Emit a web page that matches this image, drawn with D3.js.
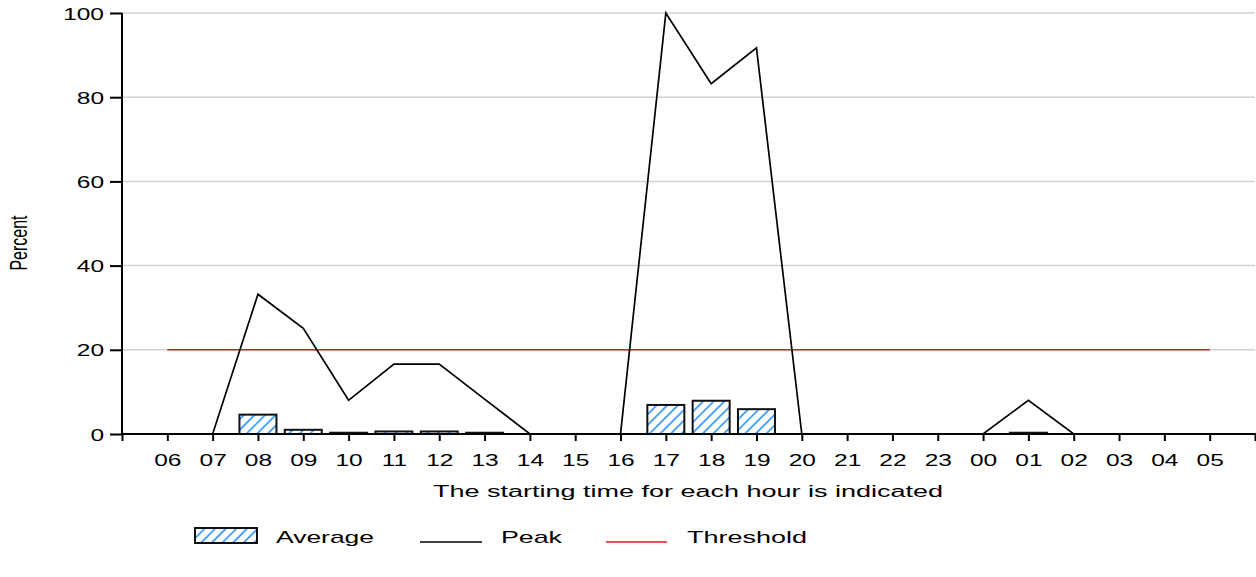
<!DOCTYPE html>
<html><head><meta charset="utf-8">
<script src="https://cdn.jsdelivr.net/npm/d3@7"></script>
<style>body{margin:0;background:#fff}svg{display:block}text{font-family:"Liberation Sans",Arial,sans-serif;fill:#000}</style>
</head><body><svg id="c" width="1256" height="577"></svg>
<script>
const hours = ["06","07","08","09","10","11","12","13","14","15","16","17","18","19","20","21","22","23","00","01","02","03","04","05"];
const averageValues = [0,0,4.6,1.0,0.3,0.6,0.6,0.3,0,0,0,6.9,7.9,5.9,0,0,0,0,0,0.3,0,0,0,0];
const peakValues = [0,0,33.2,25.1,8.0,16.6,16.6,8.3,0,0,0,100,83.2,91.7,0,0,0,0,0,8.0,0,0,0,0];
const thresholdValue = 20;
const yTicks = [0,20,40,60,80,100];
const legendLabels = ["Average","Peak","Threshold"];

const svg = d3.select("#c");
const x = d3.scaleLinear().domain([-1, hours.length]).range([122, 1255]);
const y = d3.scaleLinear().domain([0, 100]).range([434, 13]);
const barW = 37;

function stretch(sel, f){ sel.each(function(){ const w=this.getComputedTextLength(); d3.select(this).attr("textLength", w*f).attr("lengthAdjust","spacingAndGlyphs"); }); }
function fitTo(sel, w){ sel.attr("textLength", w).attr("lengthAdjust","spacingAndGlyphs"); }

const defs = svg.append("defs");
const pat = defs.append("pattern").attr("id","hatch").attr("patternUnits","userSpaceOnUse")
  .attr("width",7.5).attr("height",7.5).attr("patternTransform","rotate(45)");
pat.append("rect").attr("width",7.5).attr("height",7.5).attr("fill","#fff");
pat.append("line").attr("x1",1).attr("y1",0).attr("x2",1).attr("y2",7.5).attr("stroke","#3a9cff").attr("stroke-width",1.8);

// grid
svg.append("g").selectAll("line").data(yTicks.filter(d=>d>0)).join("line")
  .attr("x1",122).attr("x2",1255).attr("y1",d=>y(d)).attr("y2",d=>y(d))
  .attr("stroke","#d2d2d2").attr("stroke-width",1.5);

// bars
svg.append("g").selectAll("rect").data(averageValues.map((v,i)=>({v,i})).filter(d=>d.v>0)).join("rect")
  .attr("x",d=>x(d.i)-barW/2).attr("width",barW)
  .attr("y",d=>y(d.v)).attr("height",d=>y(0)-y(d.v))
  .attr("fill","url(#hatch)").attr("stroke","#111").attr("stroke-width",2);

// threshold
svg.append("line").attr("x1",x(0)).attr("x2",x(hours.length-1))
  .attr("y1",y(thresholdValue)).attr("y2",y(thresholdValue)).attr("stroke","#e8141c").attr("stroke-width",1.6);

// peak
svg.append("path").datum(peakValues)
  .attr("d", d3.line().x((d,i)=>x(i)).y(d=>y(d)))
  .attr("fill","none").attr("stroke","#000").attr("stroke-width",1.7);

// y axis
const ya = svg.append("g").attr("transform","translate(122,0)")
  .call(d3.axisLeft(y).tickValues(yTicks).tickSize(12).tickPadding(6));
ya.select(".domain").attr("stroke","#000").attr("stroke-width",2).attr("d","M0,"+y(0)+"V"+y(100));
ya.selectAll(".tick line").attr("stroke","#000").attr("stroke-width",2);
ya.selectAll("text").attr("font-size",17).attr("fill","#000").attr("font-family","Liberation Sans, Arial, sans-serif").attr("dy","0.36em");
stretch(ya.selectAll("text"), 1.44);

// x axis
const tickIdx = d3.range(-1, hours.length+1);
const xa = svg.append("g").attr("transform","translate(0,434)")
  .call(d3.axisBottom(x).tickValues(tickIdx).tickSize(7).tickPadding(13)
    .tickFormat(i => (i>=0 && i<hours.length) ? hours[i] : ""));
xa.select(".domain").attr("stroke","#000").attr("stroke-width",2).attr("d","M122,0H1256");
xa.selectAll(".tick line").attr("stroke","#000").attr("stroke-width",2);
xa.selectAll("text").attr("font-size",17).attr("fill","#000").attr("font-family","Liberation Sans, Arial, sans-serif");
stretch(xa.selectAll("text"), 1.44);

// axis titles
fitTo(svg.append("text").attr("x",688).attr("y",497).attr("text-anchor","middle").attr("font-size",16).text("The starting time for each hour is indicated"), 510);
svg.append("text").attr("transform","translate(27,243) scale(1.45,1) rotate(-90)").attr("text-anchor","middle")
  .attr("font-size",16).text("Percent");

// legend
const ly = 536;
const lg = svg.append("g");
lg.append("rect").attr("x",195).attr("y",ly-8).attr("width",62).attr("height",15).attr("fill","url(#hatch)").attr("stroke","#111").attr("stroke-width",2);
fitTo(lg.append("text").attr("x",276).attr("y",ly+7).attr("font-size",17).text(legendLabels[0]), 98);
lg.append("line").attr("x1",420).attr("x2",482).attr("y1",ly+6).attr("y2",ly+6).attr("stroke","#000").attr("stroke-width",1.7);
fitTo(lg.append("text").attr("x",501).attr("y",ly+7).attr("font-size",17).text(legendLabels[1]), 61);
lg.append("line").attr("x1",606).attr("x2",667).attr("y1",ly+6).attr("y2",ly+6).attr("stroke","#e8141c").attr("stroke-width",1.6);
fitTo(lg.append("text").attr("x",687).attr("y",ly+7).attr("font-size",17).text(legendLabels[2]), 120);
</script></body></html>
